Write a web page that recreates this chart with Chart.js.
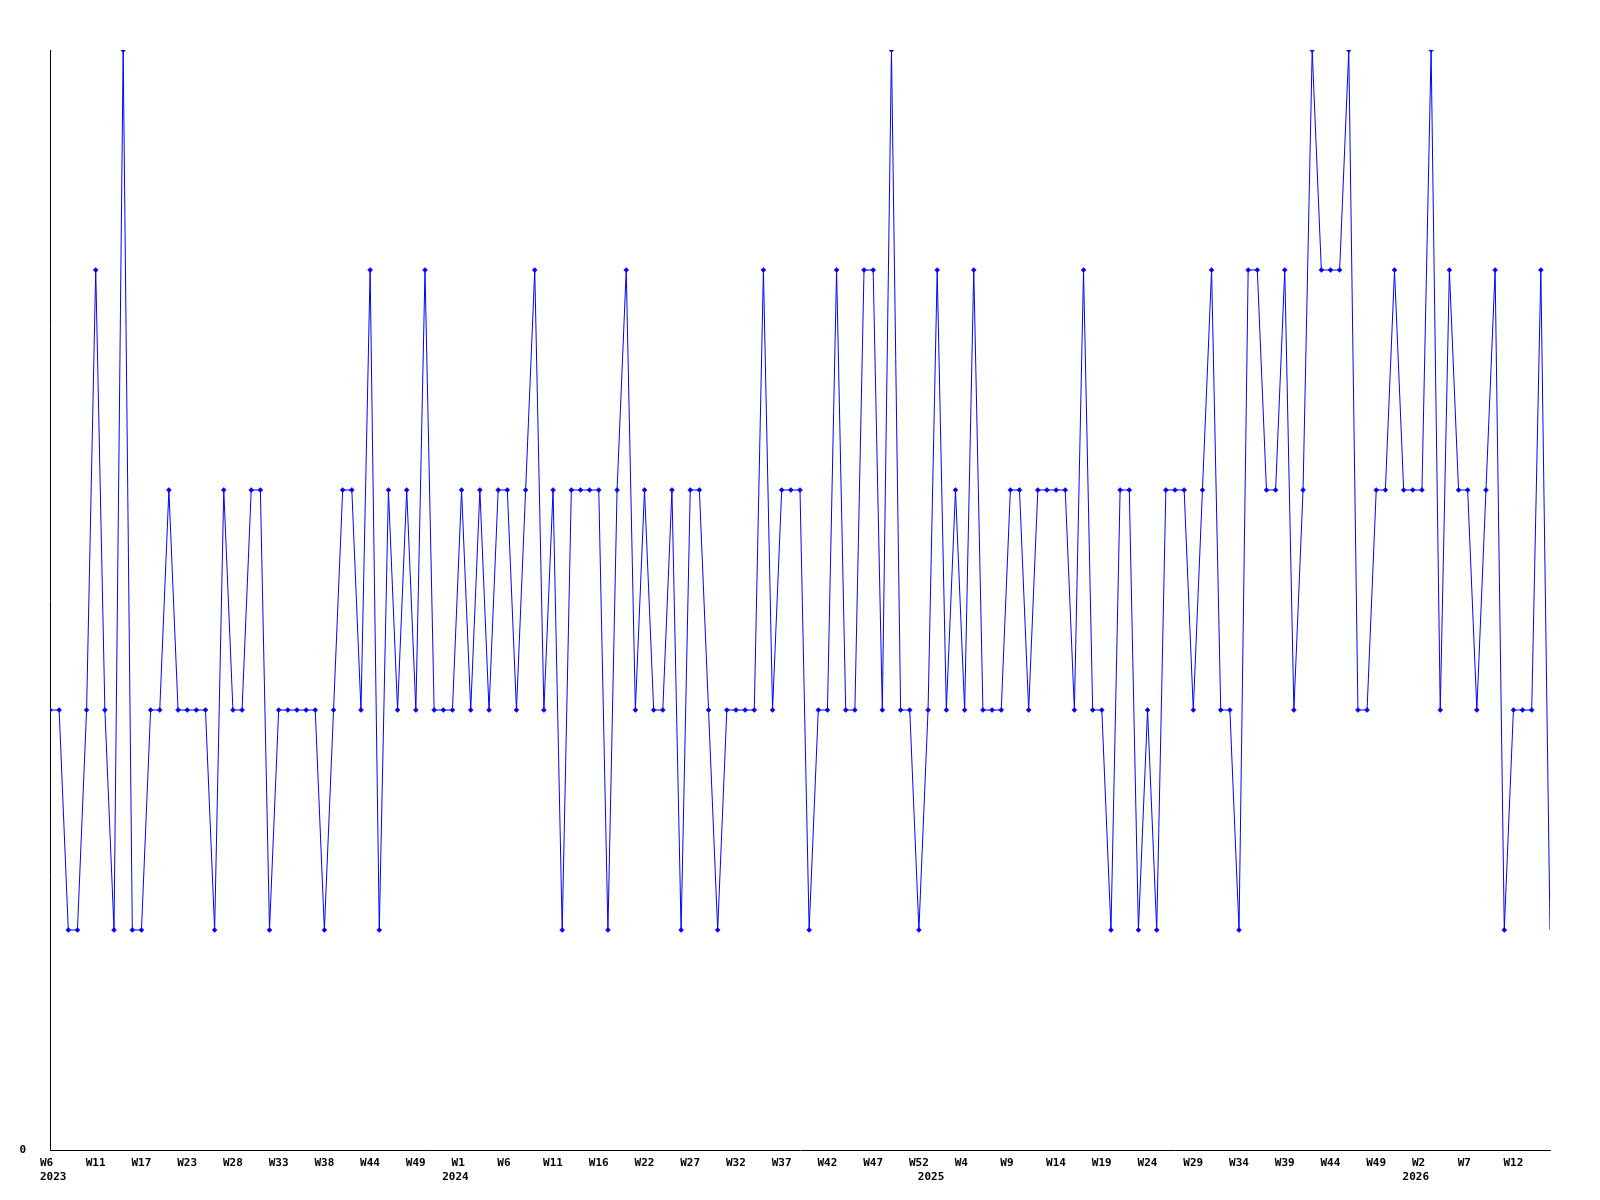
<!DOCTYPE html>
<html>
<head>
<meta charset="utf-8">
<title>Weekly chart</title>
<script src="https://cdn.jsdelivr.net/npm/chart.js@4.4.1/dist/chart.umd.min.js"></script>
<style>
  html, body { margin: 0; padding: 0; background: #fff; }
  canvas { display: block; }
</style>
</head>
<body>
<canvas id="weekChart" width="1600" height="1200"></canvas>
<script>
// weekly values, one per point
const values = [
    2, 2, 1, 1, 2, 4, 2, 1, 5, 1, 1, 2, 2, 3, 2, 2, 2, 2, 1, 3, 2, 2, 3, 3, 1, 2, 2, 2, 2,
    2, 1, 2, 3, 3, 2, 4, 1, 3, 2, 3, 2, 4, 2, 2, 2, 3, 2, 3, 2, 3, 3, 2, 3, 4, 2, 3, 1,
    3, 3, 3, 3, 1, 3, 4, 2, 3, 2, 2, 3, 1, 3, 3, 2, 1, 2, 2, 2, 2, 4, 2, 3, 3, 3, 1, 2,
    2, 4, 2, 2, 4, 4, 2, 5, 2, 2, 1, 2, 4, 2, 3, 2, 4, 2, 2, 2, 3, 3, 2, 3, 3, 3, 3, 2,
    4, 2, 2, 1, 3, 3, 1, 2, 1, 3, 3, 3, 2, 3, 4, 2, 2, 1, 4, 4, 3, 3, 4, 2, 3, 5, 4, 4,
    4, 5, 2, 2, 3, 3, 4, 3, 3, 3, 5, 2, 4, 3, 3, 2, 3, 4, 1, 2, 2, 2, 4, 1
];

// label under every 5th point
const tickLabels = [
    'W6', 'W11', 'W17', 'W23', 'W28', 'W33', 'W38', 'W44', 'W49',
    'W1', 'W6', 'W11', 'W16', 'W22', 'W27', 'W32', 'W37', 'W42', 'W47', 'W52',
    'W4', 'W9', 'W14', 'W19', 'W24', 'W29', 'W34', 'W39', 'W44', 'W49',
    'W2', 'W7', 'W12'
];
const tickEvery = 5;

// years and the point where each one starts
const yearNames = ['2023', '2024', '2025', '2026'];
const yearStart = [0, 44, 96, 149];

const FONT = { family: 'DejaVu Sans Mono', size: 11, weight: 'bold' };

// second row of the x axis: the year names
const yearRow = {
    id: 'yearRow',
    afterDraw(chart) {
        const ctx = chart.ctx;
        const xs = chart.scales.x;
        ctx.save();
        ctx.fillStyle = '#000';
        ctx.font = 'bold 11px "DejaVu Sans Mono"';
        ctx.textAlign = 'center';
        ctx.textBaseline = 'middle';
        yearNames.forEach((name, i) => {
            let px = xs.getPixelForValue(yearStart[i]) + 3;
            px = Math.max(px, 40 + ctx.measureText(name).width / 2);
            ctx.fillText(name, px, chart.chartArea.bottom + 27);
        });
        ctx.restore();
    }
};

const lastIdx = values.length - 1;

const ctx = document.getElementById('weekChart');
new Chart(ctx, {
    type: 'line',
    data: {
        datasets: [{
            data: values.map((v, i) => ({ x: i, y: v })),
            borderColor: '#0000ff',
            backgroundColor: '#0000ff',
            borderWidth: 1,
            tension: 0,
            fill: false,
            pointStyle: 'rectRot',
            pointRadius: (c) => (c.dataIndex === lastIdx ? 0 : 2.5), // no marker on the last one
            pointBorderWidth: 0.5
        }]
    },
    options: {
        responsive: false,
        animation: false,
        events: [],
        layout: { padding: { top: 50, right: 50, left: 0, bottom: 0 } },
        plugins: {
            legend: { display: false },
            tooltip: { enabled: false },
            title: { display: false }
        },
        scales: {
            x: {
                type: 'linear',
                min: 0,
                max: lastIdx,
                grid: { display: false, drawTicks: false },
                border: { display: true, color: '#000', width: 1 },
                ticks: {
                    stepSize: tickEvery,
                    includeBounds: false,
                    autoSkip: false,
                    maxRotation: 0,
                    align: 'start',
                    labelOffset: -10,
                    padding: 7,
                    color: '#000',
                    font: FONT,
                    callback: (v) => (v % tickEvery === 0 ? tickLabels[v / tickEvery] : '')
                },
                afterFit: (scale) => { scale.height = 50; }
            },
            y: {
                min: 0,
                max: 5,
                grid: { display: false, drawTicks: false },
                border: { display: true, color: '#000', width: 1 },
                ticks: {
                    stepSize: 1,
                    padding: 24,
                    color: '#000',
                    font: FONT,
                    callback: (v) => (v === 0 ? '0' : '')
                },
                afterFit: (scale) => { scale.width = 50; }
            }
        }
    },
    plugins: [yearRow]
});
</script>
</body>
</html>
